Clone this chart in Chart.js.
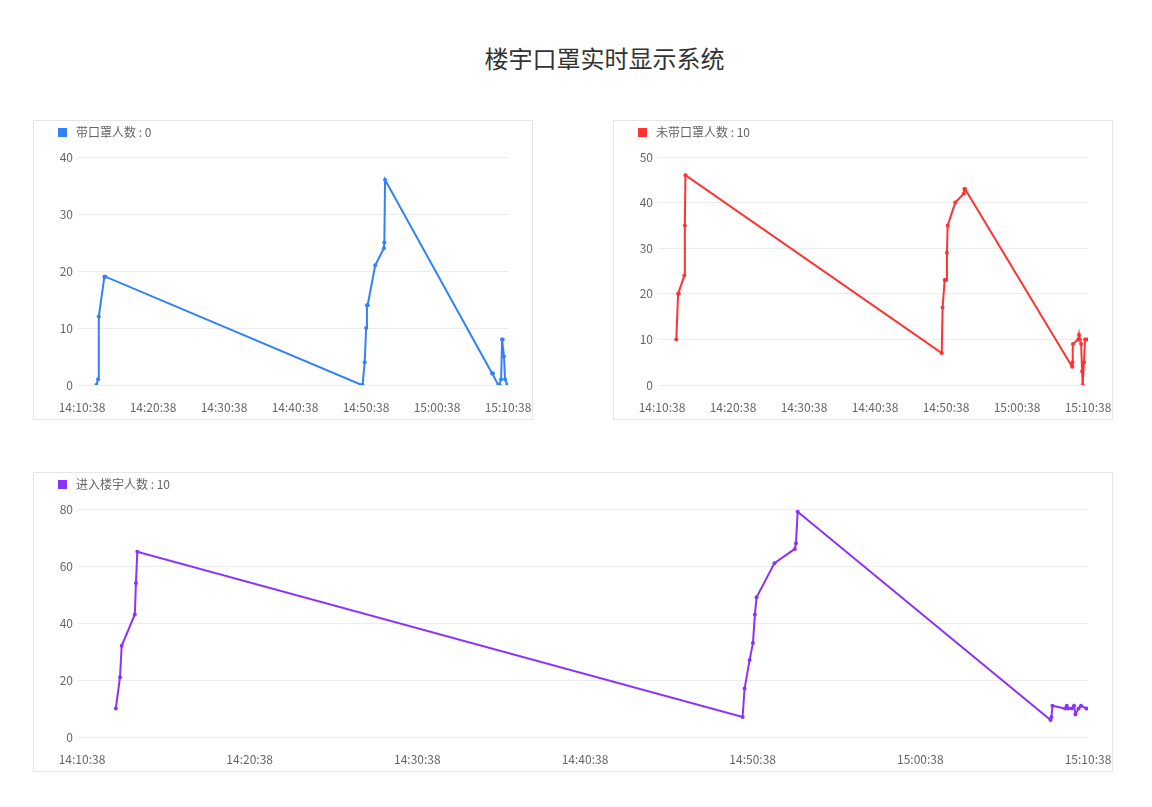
<!DOCTYPE html>
<html>
<head>
<meta charset="utf-8">
<script src="https://cdn.jsdelivr.net/npm/chart.js@4.4.1/dist/chart.umd.min.js"></script>
<style>
  html, body { margin: 0; padding: 0; background: #fff; }
  body { width: 1152px; height: 807px; position: relative; overflow: hidden;
         font-family: "Noto Sans CJK SC", "Noto Sans", sans-serif; }
  #title { position: absolute; left: 0; width: 1209px; top: 41px; text-align: center;
           font-size: 24px; color: #333; line-height: 34px; }
  .panel { position: absolute; border: 1px solid #e6e6e6; box-sizing: border-box; }
  .panel canvas { position: absolute; left: 0; top: 0; }
  .legend { position: absolute; left: 24px; top: 3px; font-size: 12px; color: #666;
            line-height: 16px; white-space: nowrap; }
  .legend i { display: inline-block; width: 9px; height: 9px; margin-right: 9px;
              vertical-align: -0px; }
</style>
</head>
<body>
<div id="title">楼宇口罩实时显示系统</div>

<div class="panel" style="left:33px;top:120px;width:500px;height:300px;">
  <canvas id="c1" width="498" height="298"></canvas>
  <div class="legend" id="lg1"></div>
</div>
<div class="panel" style="left:613px;top:120px;width:500px;height:300px;">
  <canvas id="c2" width="498" height="298"></canvas>
  <div class="legend" id="lg2"></div>
</div>
<div class="panel" style="left:33px;top:472px;width:1080px;height:300px;">
  <canvas id="c3" width="1078" height="298"></canvas>
  <div class="legend" id="lg3"></div>
</div>

<script>
// ---- data ----
const startTime = '14:10:38';
const endTime = '15:10:38';
const times = [
  '14:12:39','14:12:54','14:13:00','14:13:47','14:13:51','14:13:56',
  '14:50:02','14:50:09','14:50:27','14:50:39','14:50:46','14:50:52','14:51:56','14:53:09','14:53:13','14:53:19',
  '15:08:24','15:08:27','15:08:31','15:09:16','15:09:22','15:09:27','15:09:40','15:09:48','15:09:53','15:10:04','15:10:13','15:10:32'
];
const maskOn = [0,1,12,19,19,19, 0,0,4,10,14,14,21,24,25,36, 2,2,2,0,0,0,1,8,8,5,1,0];
const maskOff = [10,20,20,24,35,46, 7,17,23,23,29,35,40,42,43,43, 4,5,9,10,11,10,9,3,0,5,10,10];
const entered = [10,21,32,43,54,65, 7,17,27,33,43,49,61,66,68,79, 6,7,11,10,11,10,10,11,8,10,11,10];
const seriesNames = ['带口罩人数', '未带口罩人数', '进入楼宇人数'];
const legendValues = [0, 10, 10];
const yMax = [40, 50, 80];
const yStep = [10, 10, 20];
const xTickStep = 600; // seconds

// ---- helpers ----
function toSec(s) { const p = s.split(':').map(Number); return p[0]*3600 + p[1]*60 + p[2]; }
const base = toSec(startTime);
const span = toSec(endTime) - base;
function fmt(v) {
  const t = base + v;
  const h = Math.floor(t/3600), m = Math.floor((t%3600)/60), s = t%60;
  return String(h).padStart(2,'0') + ':' + String(m).padStart(2,'0') + ':' + String(s).padStart(2,'0');
}
const FONT = '"Noto Sans CJK SC", "Noto Sans", sans-serif';

function makeChart(id, lgId, values, color, idx) {
  document.getElementById(lgId).innerHTML =
    '<i style="background:' + color + '"></i>' + seriesNames[idx] + ' : ' + legendValues[idx];
  const pts = times.map((t, i) => ({ x: toSec(t) - base, y: values[i] }));
  new Chart(document.getElementById(id), {
    type: 'line',
    data: { datasets: [{
      label: seriesNames[idx], data: pts, borderColor: color, backgroundColor: color,
      borderWidth: 2, pointRadius: 2, pointBorderWidth: 0, pointHoverRadius: 2, tension: 0, fill: false
    }]},
    options: {
      responsive: false, animation: false, devicePixelRatio: 1,
      layout: { padding: { top: 36, right: 24, left: 0, bottom: 0 } },
      plugins: { legend: { display: false }, tooltip: { enabled: false } },
      scales: {
        x: {
          type: 'linear', min: 0, max: span,
          grid: { display: false, drawTicks: false },
          border: { display: false },
          ticks: { stepSize: xTickStep, maxRotation: 0, autoSkip: false, padding: 15,
                   color: '#666', font: { size: 12, family: FONT }, callback: v => fmt(v) },
          afterFit: s => { s.height = 34; s.paddingLeft = 0; s.paddingRight = 0; }
        },
        y: {
          min: 0, max: yMax[idx],
          grid: { color: '#ececec', lineWidth: 1, drawTicks: true, tickLength: 4, tickColor: '#ececec' },
          border: { display: false },
          ticks: { stepSize: yStep[idx], padding: 5, color: '#666', font: { size: 12, family: FONT } },
          afterFit: s => { s.width = 48; s.paddingTop = 0; s.paddingBottom = 0; }
        }
      }
    }
  });
}

makeChart('c1', 'lg1', maskOn, 'rgb(51,128,255)', 0);
makeChart('c2', 'lg2', maskOff, 'rgb(255,51,51)', 1);
makeChart('c3', 'lg3', entered, 'rgb(138,51,255)', 2);
</script>
</body>
</html>
